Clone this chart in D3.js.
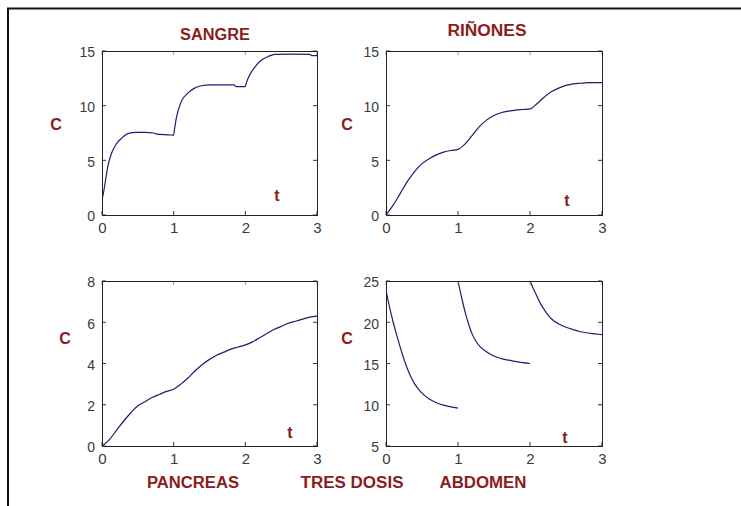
<!DOCTYPE html>
<html><head><meta charset="utf-8">
<script src="https://cdn.jsdelivr.net/npm/d3@7"></script>
<style>body{margin:0;background:#fff}svg{display:block}</style>
</head><body>
<script>
// ---------- DATA ----------
const xTicks = [0, 1, 2, 3];

const sangreT = [0,0.02,0.05,0.08,0.13,0.2,0.27,0.36,0.48,0.6,0.72,0.76,0.93,1.0,1.01,1.035,1.07,1.115,1.19,1.28,1.37,1.52,1.7,1.84,1.87,2.0,2.01,2.06,2.13,2.22,2.32,2.41,2.64,2.9,2.93,3.0];
const sangreC = [1.4,2.0,3.2,4.4,5.6,6.5,7.0,7.45,7.55,7.55,7.5,7.4,7.33,7.3,7.76,8.8,9.7,10.5,11.1,11.56,11.8,11.9,11.9,11.9,11.75,11.75,12.0,12.8,13.5,14.15,14.5,14.7,14.72,14.7,14.57,14.57];
const sangreYTicks = [0, 5, 10, 15];

const rinonesT = [0,0.1,0.2,0.3,0.4,0.5,0.6,0.7,0.8,0.9,1.0,1.1,1.2,1.3,1.4,1.5,1.6,1.7,1.8,1.9,2.0,2.1,2.2,2.3,2.4,2.5,2.6,2.7,2.8,2.9,3.0];
const rinonesC = [0,0.9,2.0,3.1,4.0,4.7,5.15,5.5,5.75,5.9,6.0,6.5,7.3,8.1,8.7,9.1,9.35,9.5,9.6,9.65,9.7,10.2,10.8,11.3,11.6,11.85,12.0,12.05,12.1,12.1,12.1];
const rinonesYTicks = [0, 5, 10, 15];

const pancreasT = [0,0.1,0.2,0.3,0.4,0.5,0.6,0.7,0.8,0.9,1.0,1.1,1.2,1.3,1.4,1.5,1.6,1.7,1.8,1.9,2.0,2.1,2.2,2.3,2.4,2.5,2.6,2.7,2.8,2.9,3.0];
const pancreasC = [0,0.3,0.75,1.2,1.6,1.95,2.15,2.35,2.5,2.65,2.75,3.0,3.3,3.65,3.95,4.2,4.4,4.55,4.7,4.8,4.9,5.05,5.25,5.45,5.65,5.8,5.95,6.05,6.15,6.25,6.3];
const pancreasYTicks = [0, 2, 4, 6, 8];

const abdomen1T = [0,0.05,0.1,0.15,0.2,0.25,0.3,0.35,0.4,0.45,0.5,0.6,0.7,0.8,0.9,1.0];
const abdomen1C = [23.9,21.8,20.0,18.4,16.9,15.5,14.3,13.3,12.5,11.9,11.4,10.7,10.25,9.95,9.75,9.6];
const abdomen2T = [1.0,1.05,1.1,1.15,1.2,1.25,1.3,1.4,1.5,1.6,1.7,1.8,1.9,2.0];
const abdomen2C = [25.0,23.0,21.2,19.7,18.5,17.7,17.1,16.4,15.9,15.6,15.4,15.25,15.1,15.0];
const abdomen3T = [2.0,2.05,2.1,2.15,2.2,2.25,2.3,2.4,2.5,2.6,2.7,2.8,2.9,3.0];
const abdomen3C = [25.0,24.0,23.1,22.2,21.5,20.9,20.4,19.8,19.4,19.1,18.85,18.7,18.6,18.5];
const abdomenYTicks = [5, 10, 15, 20, 25];

const titles = ["SANGRE", "RIÑONES", "PANCREAS", "ABDOMEN"];
const mainTitle = "TRES DOSIS";
const yLabel = "C";
const xLabel = "t";

// ---------- LAYOUT ----------
const W = 741, H = 506;
const red = "#8b1c1c";
const lineColor = "#1e1e6e";
const svg = d3.select("body").append("svg").attr("width", W).attr("height", H);
svg.append("rect").attr("width", W).attr("height", H).attr("fill", "#fff");
svg.append("path").attr("d", "M8,510V8.5H745").attr("fill", "none").attr("stroke", "#111").attr("stroke-width", 2);

const panels = [
  {x0:102, x1:317, y0:51, y1:215, yTicks:sangreYTicks, series:[[sangreT, sangreC]],
   title:titles[0], titlePos:[215,40], titleLen:70, cPos:[56,130], tPos:[277,201]},
  {x0:386, x1:602, y0:51, y1:215, yTicks:rinonesYTicks, series:[[rinonesT, rinonesC]],
   title:titles[1], titlePos:[487,36], titleLen:79, cPos:[347,130], tPos:[567,206]},
  {x0:102, x1:317, y0:281, y1:446, yTicks:pancreasYTicks, series:[[pancreasT, pancreasC]],
   title:titles[2], titlePos:[193,488], titleLen:92, cPos:[65,344], tPos:[290,438]},
  {x0:386, x1:602, y0:281, y1:446, yTicks:abdomenYTicks,
   series:[[abdomen1T, abdomen1C],[abdomen2T, abdomen2C],[abdomen3T, abdomen3C]],
   title:titles[3], titlePos:[483,488], titleLen:87, cPos:[347,344], tPos:[565,443]}
];

const font = "'Liberation Sans', Arial, Helvetica, sans-serif";

panels.forEach((p, i) => {
  const x = d3.scaleLinear().domain([0, 3]).range([p.x0, p.x1]);
  const yd = d3.extent(p.yTicks);
  const y = d3.scaleLinear().domain(yd).range([p.y1, p.y0]);
  const g = svg.append("g");
  const clipId = "clip" + i;
  svg.append("clipPath").attr("id", clipId).append("rect")
    .attr("x", p.x0).attr("y", p.y0).attr("width", p.x1 - p.x0).attr("height", p.y1 - p.y0);

  // curves
  const line = d3.line().x(d => x(d[0])).y(d => y(d[1])).curve(d3.curveMonotoneX);
  p.series.forEach(([ts, cs]) => {
    const pts = ts.map((t, k) => [t, cs[k]]);
    g.append("path").attr("d", line(pts)).attr("fill", "none")
      .attr("stroke", lineColor).attr("stroke-width", 1.2).attr("clip-path", `url(#${clipId})`);
  });

  // axes (ticks inside, MATLAB style)
  const tickLen = 4;
  const xAxis = d3.axisBottom(x).tickValues(xTicks).tickSize(0).tickPadding(0).tickFormat(d3.format("d"));
  const ax = g.append("g").attr("transform", `translate(0,${p.y1})`).call(xAxis);
  ax.select(".domain").remove();
  ax.selectAll("text").attr("y", 18).attr("dy", 0).attr("font-family", font)
    .attr("font-size", 15).attr("fill", "#3a3a3a");
  const yAxis = d3.axisLeft(y).tickValues(p.yTicks).tickSize(0).tickPadding(0).tickFormat(d3.format("d"));
  const ay = g.append("g").attr("transform", `translate(${p.x0},0)`).call(yAxis);
  ay.select(".domain").remove();
  ay.selectAll("text").attr("x", -7).attr("dy", "0.42em").attr("font-family", font)
    .attr("font-size", 14).attr("fill", "#3a3a3a");

  // tick marks on all four sides
  xTicks.forEach(v => {
    g.append("line").attr("x1", x(v)).attr("x2", x(v)).attr("y1", p.y1).attr("y2", p.y1 - tickLen)
      .attr("stroke", "#333").attr("stroke-width", 1);
    g.append("line").attr("x1", x(v)).attr("x2", x(v)).attr("y1", p.y0).attr("y2", p.y0 + tickLen)
      .attr("stroke", "#999").attr("stroke-width", 1);
  });
  p.yTicks.forEach(v => {
    g.append("line").attr("x1", p.x0).attr("x2", p.x0 + tickLen).attr("y1", y(v)).attr("y2", y(v))
      .attr("stroke", "#333").attr("stroke-width", 1);
    g.append("line").attr("x1", p.x1).attr("x2", p.x1 - tickLen).attr("y1", y(v)).attr("y2", y(v))
      .attr("stroke", "#333").attr("stroke-width", 1);
  });

  // frame
  g.append("rect").attr("x", p.x0 + 0.5).attr("y", p.y0 + 0.5)
    .attr("width", p.x1 - p.x0).attr("height", p.y1 - p.y0)
    .attr("fill", "none").attr("stroke", "#222").attr("stroke-width", 1);

  // labels
  svg.append("text").attr("x", p.titlePos[0]).attr("y", p.titlePos[1]).attr("text-anchor", "middle")
    .attr("font-family", font).attr("font-weight", "bold").attr("font-size", 16).attr("fill", red)
    .attr("textLength", p.titleLen).attr("lengthAdjust", "spacingAndGlyphs").text(p.title);
  svg.append("text").attr("x", p.cPos[0]).attr("y", p.cPos[1]).attr("text-anchor", "middle")
    .attr("font-family", font).attr("font-weight", "bold").attr("font-size", 16).attr("fill", red).text(yLabel);
  svg.append("text").attr("x", p.tPos[0]).attr("y", p.tPos[1]).attr("text-anchor", "middle")
    .attr("font-family", font).attr("font-weight", "bold").attr("font-size", 16).attr("fill", red).text(xLabel);
});

svg.append("text").attr("x", 352).attr("y", 488).attr("text-anchor", "middle")
  .attr("font-family", font).attr("font-weight", "bold").attr("font-size", 16).attr("fill", red)
  .attr("textLength", 103).attr("lengthAdjust", "spacingAndGlyphs").text(mainTitle);
</script>
</body></html>
